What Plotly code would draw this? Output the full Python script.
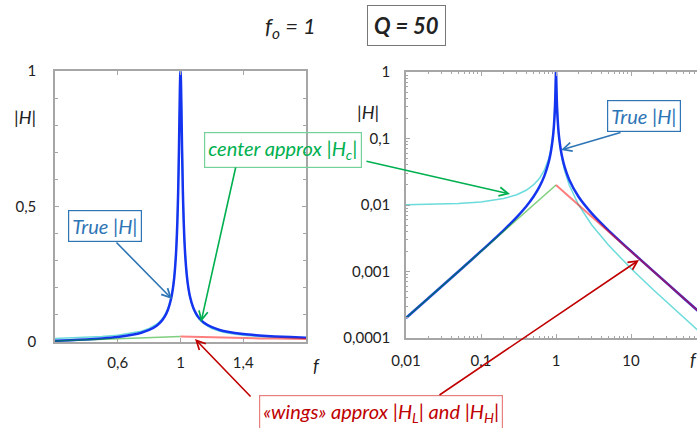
import plotly.graph_objects as go

# ---------------- data ----------------
# linear view, f from 0.2 to 1.8
f_lin = [0.2, 0.3, 0.4, 0.5, 0.6, 0.7, 0.75, 0.8, 0.85, 0.88, 0.9, 0.92, 0.94, 0.95,
         0.96, 0.97, 0.975, 0.98, 0.985, 0.99, 0.993, 0.996, 0.998, 1.0, 1.002, 1.004,
         1.007, 1.01, 1.015, 1.02, 1.025, 1.03, 1.04, 1.05, 1.06, 1.08, 1.1, 1.12, 1.15,
         1.2, 1.25, 1.3, 1.4, 1.5, 1.6, 1.7, 1.8]
h_true_lin = [0.00417, 0.00659, 0.00952, 0.01333, 0.01875, 0.02745, 0.03429, 0.0444,
              0.06115, 0.07778, 0.0943, 0.1189, 0.1594, 0.1913, 0.2379, 0.3119, 0.3673,
              0.4436, 0.5518, 0.7053, 0.8183, 0.9282, 0.9804, 1.0, 0.9805, 0.9287, 0.8201,
              0.7088, 0.5575, 0.4507, 0.3753, 0.3204, 0.247, 0.2007, 0.1691, 0.1287, 0.1042,
              0.0877, 0.0711, 0.0545, 0.0444, 0.0377, 0.0292, 0.024, 0.0205, 0.018, 0.0161]
h_center_lin = [0.0125, 0.01428, 0.01667, 0.02, 0.025, 0.0333, 0.03997, 0.04994, 0.0665,
                0.083, 0.0995, 0.124, 0.1644, 0.1961, 0.2425, 0.3162, 0.3714, 0.4472,
                0.5547, 0.7071, 0.8192, 0.9285, 0.9806, 1.0, 0.9806, 0.9285, 0.8192, 0.7071,
                0.5547, 0.4472, 0.3714, 0.3162, 0.2425, 0.1961, 0.1644, 0.124, 0.0995, 0.083,
                0.0665, 0.04994, 0.03997, 0.0333, 0.025, 0.02, 0.01667, 0.01428, 0.0125]
f_low_lin = [0.2, 1.0]
h_low_lin = [0.004, 0.02]
f_high_lin = [1.0, 1.1, 1.2, 1.3, 1.4, 1.5, 1.6, 1.7, 1.8]
h_high_lin = [0.02, 0.01818, 0.01667, 0.01538, 0.01429, 0.01333, 0.0125, 0.01176, 0.01111]

# log-log view, f from 0.01 to 100
f_log = [0.01, 0.02, 0.05, 0.1, 0.2, 0.3, 0.4, 0.5, 0.6, 0.7, 0.8, 0.85, 0.9, 0.93, 0.95,
         0.96, 0.97, 0.98, 0.985, 0.99, 0.993, 0.996, 0.998, 1.0, 1.002, 1.004, 1.007,
         1.01, 1.015, 1.02, 1.03, 1.04, 1.05, 1.07, 1.1, 1.15, 1.2, 1.3, 1.5, 2, 3, 5, 10,
         20, 50, 100]
h_true_log = [0.0002, 0.0004, 0.001, 0.00202, 0.004167, 0.00659, 0.00952, 0.01333, 0.01875,
              0.02745, 0.0444, 0.06115, 0.0943, 0.1364, 0.1913, 0.2379, 0.3119, 0.4436,
              0.5518, 0.7053, 0.8183, 0.9282, 0.9804, 1.0, 0.9805, 0.9287, 0.8201, 0.7088,
              0.5575, 0.4507, 0.3204, 0.247, 0.2007, 0.1461, 0.1042, 0.0711, 0.0545, 0.0377,
              0.024, 0.01333, 0.0075, 0.004167, 0.00202, 0.001003, 0.0004, 0.0002]
h_center_log = [0.010101, 0.010204, 0.010526, 0.01111, 0.0125, 0.01428, 0.01667, 0.02, 0.025,
                0.0333, 0.04994, 0.0665, 0.0995, 0.1414, 0.1961, 0.2425, 0.3162, 0.4472,
                0.5547, 0.7071, 0.8192, 0.9285, 0.9806, 1.0, 0.9806, 0.9285, 0.8192, 0.7071,
                0.5547, 0.4472, 0.3162, 0.2425, 0.1961, 0.1414, 0.0995, 0.0665, 0.04994,
                0.0333, 0.02, 0.01, 0.005, 0.0025, 0.001111, 0.000526, 0.000204, 0.000101]
f_low_log = [0.01, 1.0]
h_low_log = [0.0002, 0.02]
f_high_log = [1.0, 100]
h_high_log = [0.02, 0.0002]

lin_tickvals = [0.6, 1.0, 1.4]
lin_ticktext = ["0,6", "1", "1,4"]
lin_ytickvals = [0, 0.5, 1]
lin_yticktext = ["0", "0,5", "1"]
log_xtickvals = [0.01, 0.1, 1, 10]
log_xticktext = ["0,01", "0,1", "1", "10"]
log_ytickvals = [0.0001, 0.001, 0.01, 0.1, 1]
log_yticktext = ["0,0001", "0,001", "0,01", "0,1", "1"]

# ---------------- styling ----------------
W, H = 697, 428
FONT = "Lato"
C_TRUE = "#1434f0"
C_CENTER = "#3ccfcf"
C_LOW = "#00a000"
C_HIGH = "#ff0000"
C_AXIS = "#a6a6a6"
C_BLUE_TXT = "#2e75b6"
C_GREEN_TXT = "#00b050"
C_RED_TXT = "#c00000"


def px(x):
    return x / W


def py(y):
    return 1 - y / H


fig = go.Figure()


def add_set(xa, ya, f, h_c, h_t, fl, hl, fh, hh):
    fig.add_trace(go.Scatter(x=f, y=h_c, mode="lines", xaxis=xa, yaxis=ya,
                             line=dict(color=C_CENTER, width=1.5), opacity=0.75))
    fig.add_trace(go.Scatter(x=f, y=h_t, mode="lines", xaxis=xa, yaxis=ya,
                             line=dict(color=C_TRUE, width=2.5, shape="spline", smoothing=0.6)))
    fig.add_trace(go.Scatter(x=fl, y=hl, mode="lines", xaxis=xa, yaxis=ya,
                             line=dict(color=C_LOW, width=1.5), opacity=0.5))
    fig.add_trace(go.Scatter(x=fh, y=hh, mode="lines", xaxis=xa, yaxis=ya,
                             line=dict(color=C_HIGH, width=2), opacity=0.5))


add_set("x", "y", f_lin, h_center_lin, h_true_lin, f_low_lin, h_low_lin, f_high_lin, h_high_lin)
add_set("x2", "y2", f_log, h_center_log, h_true_log, f_low_log, h_low_log, f_high_log, h_high_log)

tickfont = dict(family=FONT, size=15, color="#222222")
axis_common = dict(showline=True, linecolor=C_AXIS, linewidth=1.5, ticks="inside",
                   tickcolor=C_AXIS, ticklen=4, showgrid=False, zeroline=False,
                   tickfont=tickfont, tickmode="array", automargin=False)

minor_x_log = [m * 10 ** e for e in (-2, -1, 0, 1) for m in range(2, 10)]
minor_y_log = [m * 10 ** e for e in (-4, -3, -2, -1) for m in range(2, 10)]

fig.update_layout(
    width=W, height=H, autosize=False,
    margin=dict(l=0, r=0, t=0, b=0, pad=0),
    paper_bgcolor="white", plot_bgcolor="white",
    showlegend=False,
    xaxis=dict(domain=[px(55), px(306)], range=[0.2, 1.8], anchor="y",
               tickvals=lin_tickvals, ticktext=lin_ticktext, mirror="ticks",
               ticklabelstandoff=6, **axis_common),
    yaxis=dict(domain=[py(342), py(71)], range=[0, 1], anchor="x",
               tickvals=lin_ytickvals, ticktext=lin_yticktext, mirror="ticks",
               ticklabelstandoff=14,
               minor=dict(tickmode="linear", tick0=0, dtick=0.1, ticks="inside",
                          ticklen=3, tickcolor=C_AXIS),
               **axis_common),
    xaxis2=dict(domain=[px(406), 1.0], type="log", range=[-2, 1.88], anchor="y2",
                tickvals=log_xtickvals, ticktext=log_xticktext, mirror="ticks",
                ticklabelstandoff=8,
                minor=dict(tickmode="array", tickvals=minor_x_log, ticks="inside",
                           ticklen=2, tickcolor=C_AXIS),
                **axis_common),
    yaxis2=dict(domain=[py(338), py(72)], type="log", range=[-4, 0], anchor="x2",
                tickvals=log_ytickvals, ticktext=log_yticktext, mirror=False,
                ticklabelstandoff=11,
                minor=dict(tickmode="array", tickvals=minor_y_log, ticks="inside",
                           ticklen=2, tickcolor=C_AXIS),
                **axis_common),
)

ann = []


def text_at(x, y, text, size=15, color="#222222", **kw):
    ann.append(dict(x=px(x), y=py(y), xref="paper", yref="paper", text=text,
                    showarrow=False, font=dict(family=FONT, size=size, color=color),
                    xanchor="center", yanchor="middle", **kw))


def arrow(tail, head, color):
    ann.append(dict(x=px(head[0]), y=py(head[1]), xref="paper", yref="paper",
                    ax=tail[0] - head[0], ay=tail[1] - head[1], text="",
                    showarrow=True, arrowhead=5, arrowsize=1.1, arrowwidth=1.6,
                    arrowcolor=color, standoff=0, startstandoff=0))


# title
text_at(290, 27, "<i>f<sub>o</sub> = 1</i>", size=22)
text_at(406, 26, "<b><i>Q = 50</i></b>", size=22, bordercolor="#777777",
        borderwidth=1, borderpad=6)

# axis labels
text_at(25, 117, "<i>|H|</i>", size=18)
text_at(368, 112, "<i>|H|</i>", size=18)
text_at(316, 365, "<i>f</i>", size=18)
text_at(693, 359, "<i>f</i>", size=18)

# callout boxes
text_at(105, 226, "<i>True |H|</i>", size=20, color=C_BLUE_TXT,
        bordercolor=C_BLUE_TXT, borderwidth=1.2, borderpad=3)
text_at(644, 116, "<i>True |H|</i>", size=20, color=C_BLUE_TXT,
        bordercolor=C_BLUE_TXT, borderwidth=1.2, borderpad=3)
text_at(283, 150, "<i>center approx |H<sub>c</sub>|</i>", size=20, color=C_GREEN_TXT,
        bordercolor="#74d19a", borderwidth=1.2, borderpad=3)
text_at(381, 413, "<i>«wings» approx |H<sub>L</sub>| and |H<sub>H</sub>|</i>", size=20,
        color=C_RED_TXT, bordercolor="#e88080", borderwidth=1.2, borderpad=3)

# arrows
arrow((115, 241), (172, 299), C_BLUE_TXT)
arrow((622, 132), (561, 150), C_BLUE_TXT)
arrow((236, 166), (201, 322), C_GREEN_TXT)
arrow((365, 161), (510, 194), C_GREEN_TXT)
arrow((252, 398), (195, 339), C_RED_TXT)
arrow((438, 396), (639, 260), C_RED_TXT)

fig.update_layout(annotations=ann)

fig.write_html("out.html")
